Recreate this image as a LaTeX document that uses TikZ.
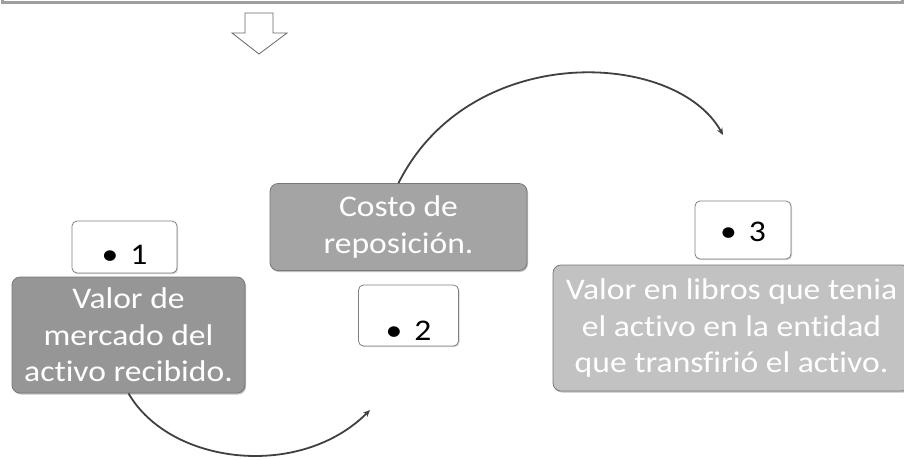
\documentclass[tikz,border=0pt]{standalone}
\usepackage{fontspec}
\setmainfont[Ligatures=NoCommon, FakeStretch=1.12]{Carlito}
\usetikzlibrary{arrows.meta,shadows}

\definecolor{darkbox}{RGB}{150,150,150}
\definecolor{midbox}{RGB}{164,164,164}
\definecolor{lightbox}{RGB}{194,194,194}
\definecolor{edgegrey}{RGB}{120,120,120}

\tikzset{
    greybox/.style={rounded corners=8pt, draw=edgegrey, line width=0.8pt, text=white,
        align=center, inner sep=0pt, font=\fontsize{30}{36.5}\selectfont,
        drop shadow={shadow xshift=1pt, shadow yshift=-1.5pt, opacity=0.5}},
    numbox/.style={rounded corners=5pt, draw=gray, line width=0.8pt, fill=white,
        inner sep=0pt, font=\fontsize{30}{35}\selectfont,
        drop shadow={shadow xshift=1pt, shadow yshift=-1.2pt, opacity=0.35}},
    cycarrow/.style={draw=gray!50!black, line width=1.8pt, -{Stealth[length=7pt,width=6pt]}}
}

\begin{document}
\begin{tikzpicture}[x=1pt,y=-1pt]
    \useasboundingbox (0,0) rectangle (904,459);
    % top frame and hollow arrow
    \draw [gray!75, line width=3pt] (2,-6) -- (2,2) -- (902,2) -- (902,-6);
    \draw [gray!80!black, line width=0.8pt, fill=white]
        (245,13) -- (273,13) -- (273,33) -- (287,33) -- (259,54) -- (232,33) -- (245,33) -- cycle;

    % boxes
    \node [greybox, fill=darkbox, minimum width=233pt, minimum height=116pt] (mercado) at (128.5,335)
        {Valor de\\mercado del\\activo recibido.};
    \node [greybox, fill=midbox, minimum width=257pt, minimum height=87pt] (costo) at (398.5,227)
        {Costo de\\reposición.};
    \node [greybox, fill=lightbox, minimum width=357pt, minimum height=126pt] (libros) at (731.5,328)
        {Valor en libros que tenia\\el activo en la entidad\\que transfirió el activo.};

    \node [numbox, minimum width=105pt, minimum height=52pt, text height=34pt, text depth=0pt] (uno) at (124.5,247)
        {\textbullet\hspace{12pt}1};
    \node [numbox, minimum width=100pt, minimum height=61pt, text height=50pt, text depth=0pt] (dos) at (408.5,315.5)
        {\textbullet\hspace{12pt}2};
    \node [numbox, minimum width=96pt, minimum height=58pt, text height=22pt, text depth=0pt] (tres) at (743,230)
        {\textbullet\hspace{12pt}3};

    % arcs
    \coordinate (fintop) at (723,135);
    \coordinate (finbot) at (370,410);
    \draw [cycarrow] (costo.north) .. controls (470,40) and (676,50) .. (fintop);
    \draw [cycarrow] (mercado.south) .. controls (170,465) and (300,480) .. (finbot);
\end{tikzpicture}
\end{document}
